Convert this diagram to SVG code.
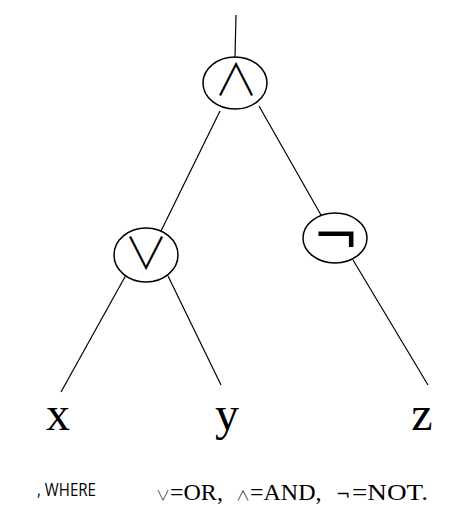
<svg xmlns="http://www.w3.org/2000/svg" width="472" height="524" viewBox="0 0 472 524">
<style>
.n{fill:#fff;stroke:#000;stroke-width:1.5}
.e{stroke:#000;stroke-width:1.2;fill:none}
.op{font-family:"Noto Sans CJK JP",sans-serif;font-weight:300;font-size:44px;text-anchor:middle;fill:#000}
.neg{font-family:"DejaVu Sans",sans-serif;font-size:56px;text-anchor:middle;fill:#000}
.leaf{font-family:"Liberation Serif",serif;font-size:48px;text-anchor:middle;fill:#000}
.sym{font-family:"Noto Sans CJK JP",sans-serif;font-weight:300;font-size:14px}
.sneg{font-family:"DejaVu Sans",sans-serif;font-size:17px}
</style>
<rect width="472" height="524" fill="#fff"/>
<g id="edges">
<line class="e" x1="236" y1="15" x2="235" y2="57"/>
<line class="e" x1="220" y1="111" x2="161" y2="231"/>
<line class="e" x1="259" y1="106" x2="321" y2="215"/>
<line class="e" x1="126" y1="275" x2="61" y2="392"/>
<line class="e" x1="168" y1="276" x2="221" y2="385"/>
<line class="e" x1="353" y1="260" x2="428" y2="385"/>
</g>
<g id="and"><ellipse class="n" cx="235" cy="83" rx="32" ry="26"/><text class="op" x="236" y="96">∧</text></g>
<g id="or"><ellipse class="n" cx="146" cy="255" rx="32" ry="27"/><text class="op" x="146" y="269">∨</text></g>
<g id="not"><ellipse class="n" cx="335" cy="238" rx="32" ry="25"/><text class="neg" x="336" y="255">¬</text></g>
<g id="x"><text class="leaf" x="58" y="430">x</text></g>
<g id="y"><text class="leaf" x="227" y="430">y</text></g>
<g id="z"><text class="leaf" x="422" y="430">z</text></g>
<text x="37" y="496" font-family="'Open Sans',sans-serif" font-size="18" textLength="59" lengthAdjust="spacingAndGlyphs" fill="#000">, WHERE</text>
<text y="500" font-family="'Liberation Serif',serif" font-size="24" fill="#000"><tspan class="sym" x="156">∨</tspan><tspan x="170">=OR,</tspan><tspan class="sym" x="236">∧</tspan><tspan x="250">=AND,</tspan><tspan class="sneg" x="336">¬</tspan><tspan x="352" textLength="76" lengthAdjust="spacingAndGlyphs">=NOT.</tspan></text>
</svg>
